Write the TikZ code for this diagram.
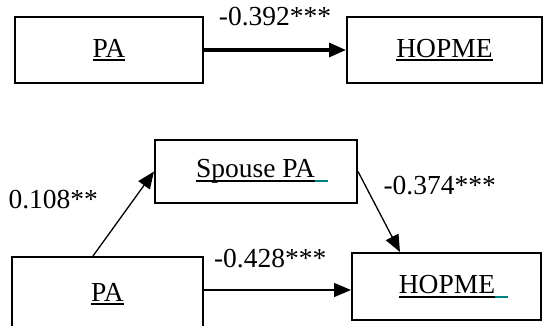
\documentclass[tikz,border=0pt]{standalone}
\usepackage{fontspec}
\setmainfont{Liberation Serif}
\usepackage{xcolor}
\usetikzlibrary{arrows.meta,calc,positioning}
\newcommand{\ultext}[1]{\setbox0\hbox{#1}\rlap{\rule[-4pt]{\wd0}{2pt}}\box0}
\newcommand{\tealtail}{\textcolor{teal}{\rule[-4pt]{13pt}{2pt}}}
\tikzset{%
	block/.style    = {draw, rectangle, line width=2pt, font=\fontsize{27.5}{31}\selectfont}, % variable
	coef/.style     = {font=\fontsize{27.5}{31}\selectfont}, % path coefficient
	link/.style     = {line width=1.3pt, -{Triangle[length=17pt,width=14pt]}},
	boldlink/.style = {link, line width=3.2pt},
}

\begin{document}
\begin{tikzpicture}[x=1pt,y=1pt,node distance=335.5pt]
	\useasboundingbox (0,0) rectangle (543,-325);
	\clip (0,0) rectangle (543,-325);
	% total effect
	\node [block, minimum width=188pt, minimum height=66pt] (pa) at (109,-50) {\ultext{PA}};
	\node [block, minimum width=195pt, minimum height=66pt] (hopme) [right of=pa] {\ultext{HOPME}};
	% mediation through spouse
	\node [block, minimum width=202pt, minimum height=63pt] (spouse) at (256,-171.5) {\hspace*{12pt}\ultext{Spouse PA}\tealtail};
	\node [block, minimum width=191pt, minimum height=74pt] (pam) at (107.5,-294) {\ultext{PA}};
	\node [block, minimum width=189pt, minimum height=67pt] (hopmem) at (446.5,-286.5) {\hspace*{14pt}\ultext{HOPME}\tealtail};

	\draw [boldlink] (pa) -- node [coef, above=19pt] {-0.392***} (hopme);
	\draw [link] ([yshift=4pt]pam.east) -- node [coef, above=18pt, pos=0.45] {-0.428***} ([yshift=-3.5pt]hopmem.west);
	\draw [link] ([xshift=-14.5pt]pam.north) -- node [coef, pos=0.67, left=32pt] {0.108**} (spouse.west);
	\draw [link] (spouse.east) -- node [coef, pos=0.18, right=14pt] {-0.374***} ([xshift=-46.5pt]hopmem.north);
\end{tikzpicture}
\end{document}
